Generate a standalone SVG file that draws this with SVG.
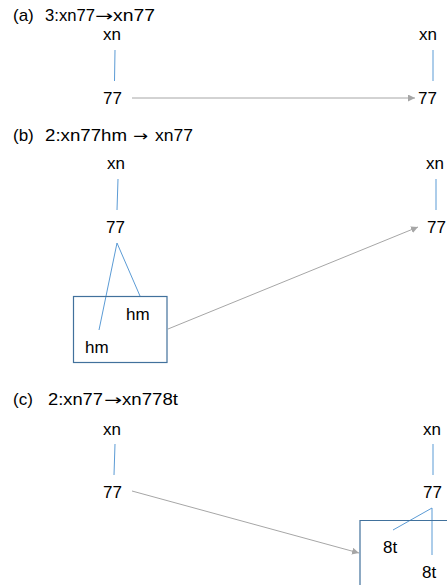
<svg xmlns="http://www.w3.org/2000/svg" width="447" height="585" viewBox="0 0 447 585">
<defs>
<style>
text{font-family:"Liberation Sans",Arial,sans-serif;font-size:17px;fill:#000}
.ar{font-family:"DejaVu Sans",sans-serif;font-size:15px}
.t{stroke:#5B9BD5;stroke-width:1;fill:none}
.box{stroke:#41719C;stroke-width:1.2;fill:none}
.c{stroke:#A6A6A6;stroke-width:1;fill:none;marker-end:url(#ah)}
</style>
<marker id="ah" viewBox="0 0 10 10" refX="10" refY="5" markerWidth="7" markerHeight="7" orient="auto" markerUnits="userSpaceOnUse"><path d="M0,0 L10,5 L0,10 z" fill="#A6A6A6"/></marker>
</defs>
<rect width="447" height="585" fill="#fff"/>
<g id="titles">
<text y="21"><tspan x="13">(a)</tspan><tspan x="45" textLength="50" lengthAdjust="spacingAndGlyphs">3:xn77</tspan><tspan class="ar" x="95" textLength="18" lengthAdjust="spacingAndGlyphs">→</tspan><tspan x="113" textLength="42" lengthAdjust="spacingAndGlyphs">xn77</tspan></text>
<text y="141"><tspan x="13">(b)</tspan><tspan x="45" textLength="82" lengthAdjust="spacingAndGlyphs">2:xn77hm</tspan><tspan class="ar" x="133" textLength="15" lengthAdjust="spacingAndGlyphs">→</tspan><tspan x="155" textLength="38" lengthAdjust="spacingAndGlyphs">xn77</tspan></text>
<text y="405"><tspan x="13">(c)</tspan><tspan x="48" textLength="55" lengthAdjust="spacingAndGlyphs">2:xn77</tspan><tspan class="ar" x="104" textLength="18" lengthAdjust="spacingAndGlyphs">→</tspan><tspan x="122" textLength="56" lengthAdjust="spacingAndGlyphs">xn778t</tspan></text>
</g>
<g id="tree-a-left">
<text x="103" y="40">xn</text>
<line class="t" x1="115" y1="50" x2="114.5" y2="81"/>
<text x="103" y="104">77</text>
</g>
<g id="tree-a-right">
<text x="419" y="40">xn</text>
<line class="t" x1="433" y1="50" x2="433" y2="81"/>
<text x="418" y="104">77</text>
</g>
<g id="tree-b-left">
<text x="107" y="169">xn</text>
<line class="t" x1="118" y1="179" x2="117" y2="210"/>
<text x="106" y="233">77</text>
<polyline class="t" points="99,330 117,243 140,296"/>
</g>
<g id="box-b">
<rect class="box" x="73.5" y="296.5" width="93.5" height="66"/>
<text x="126" y="320">hm</text>
<text x="85" y="353">hm</text>
</g>
<g id="tree-b-right">
<text x="426" y="169">xn</text>
<line class="t" x1="436" y1="179" x2="436" y2="210"/>
<text x="427" y="233">77</text>
</g>
<g id="tree-c-left">
<text x="103" y="435">xn</text>
<line class="t" x1="115" y1="444" x2="114" y2="475"/>
<text x="103" y="498">77</text>
</g>
<g id="tree-c-right">
<text x="423" y="435">xn</text>
<line class="t" x1="433" y1="444" x2="433" y2="475"/>
<text x="423" y="498">77</text>
<polyline class="t" points="393,530 432,508 432,555"/>
</g>
<g id="box-c">
<path class="box" d="M360,586 V520.5 H448"/>
<text x="383" y="553">8t</text>
<text x="422" y="578">8t</text>
</g>
<g id="connectors">
<line class="c" x1="132" y1="98" x2="415" y2="98"/>
<line class="c" x1="168" y1="329" x2="418" y2="227"/>
<line class="c" x1="132" y1="491" x2="359" y2="553"/>
</g>
</svg>
